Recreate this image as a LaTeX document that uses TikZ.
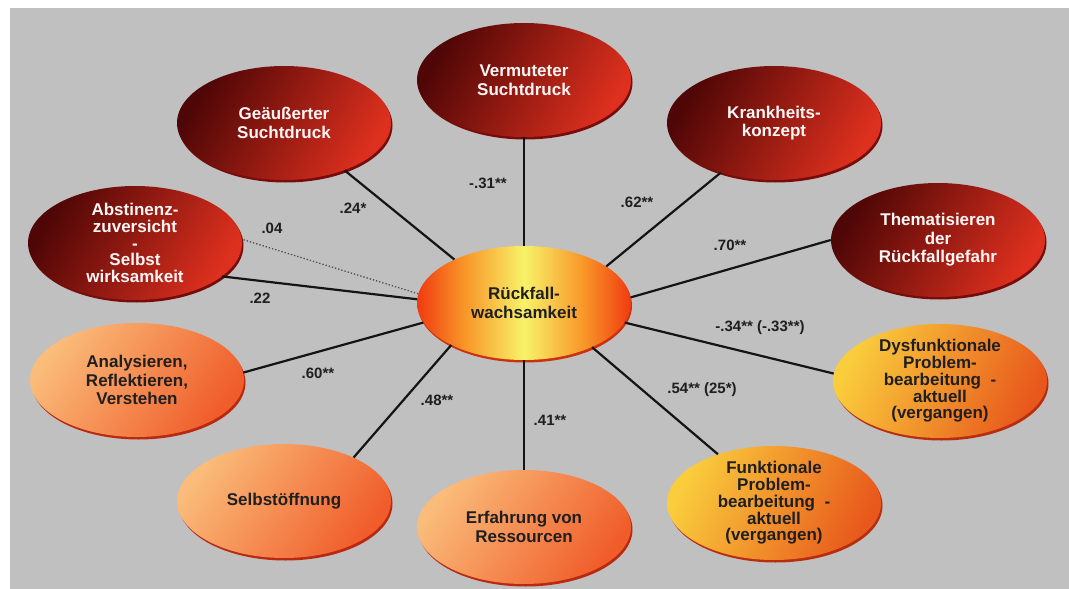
\documentclass[tikz,border=0pt]{standalone}
\usepackage{fontspec}
\setmainfont{Liberation Sans}
\usetikzlibrary{shapes.geometric,shadows}
\definecolor{bg}{RGB}{192,192,192}
\definecolor{reddark}{RGB}{78,6,6}
\definecolor{redbright}{RGB}{222,48,30}
\definecolor{redrim}{RGB}{120,12,10}
\definecolor{orlight}{RGB}{250,188,122}
\definecolor{ordark}{RGB}{240,92,42}
\definecolor{orrim}{RGB}{185,40,15}
\definecolor{yelight}{RGB}{250,205,60}
\definecolor{yedark}{RGB}{232,88,28}
\definecolor{yerim}{RGB}{185,45,15}
\definecolor{cred}{RGB}{240,58,16}
\definecolor{cora}{RGB}{248,150,40}
\definecolor{cyel}{RGB}{248,242,105}
\definecolor{linec}{RGB}{20,20,20}
\pgfdeclarehorizontalshading{centershade}{100bp}{color(0bp)=(cred); color(25bp)=(cred); color(36bp)=(cora); color(50bp)=(cyel); color(64bp)=(cora); color(75bp)=(cred); color(100bp)=(cred)}
\begin{document}
\begin{tikzpicture}[x=1pt,y=-1pt,
  ell/.style={ellipse, minimum width=214pt, minimum height=114pt, inner sep=0pt},
  redell/.style={ell, top color=reddark, bottom color=redbright, shading angle=60,
    drop shadow={fill=redrim, opacity=1, shadow xshift=1.5pt, shadow yshift=-2.5pt}},
  orell/.style={ell, top color=orlight, bottom color=ordark, shading angle=55,
    drop shadow={fill=orrim, opacity=1, shadow xshift=1.5pt, shadow yshift=-2.5pt}},
  yeell/.style={ell, top color=yelight, bottom color=yedark, shading angle=65,
    drop shadow={fill=yerim, opacity=1, shadow xshift=1.5pt, shadow yshift=-2.5pt}},
  cenell/.style={ell, shading=centershade,
    drop shadow={fill=cred!85!black, opacity=1, shadow xshift=1pt, shadow yshift=-2.5pt}},
  wtext/.style={align=center, text=white!96!red, inner sep=0pt, font=\bfseries\fontsize{17}{18.5}\selectfont},
  dtext/.style={align=center, text=black!88, inner sep=0pt, font=\bfseries\fontsize{17}{18.5}\selectfont},
  tight/.style={font=\bfseries\fontsize{17}{16.8}\selectfont},
  lab/.style={text=black!88, inner sep=0pt, font=\bfseries\fontsize{15}{17}\selectfont},
  conn/.style={draw=linec, line width=2.2pt},
  dconn/.style={draw=black!70, line width=1.3pt, dotted}]
\useasboundingbox (0,0) rectangle (1069,589);
\fill[bg] (10,8) rectangle (1069,589);

% outer ellipses
\node[redell] (ge) at (284,123) {};
\node[redell] (ve) at (524,80) {};
\node[redell] (kr) at (774,123) {};
\node[redell] (th) at (938,240) {};
\node[redell] (ab) at (135,243) {};
\node[orell] (an) at (137,380) {};
\node[orell] (se) at (284,501) {};
\node[orell] (er) at (524,527) {};
\node[yeell] (fu) at (774,503) {};
\node[yeell] (dy) at (940,381) {};
\node[cenell] (c) at (524,303) {};

% texts
\node[wtext] (ge-t) at (ge) {Geäußerter\\Suchtdruck};
\node[wtext] (ve-t) at (ve) {Vermuteter\\Suchtdruck};
\node[wtext] (kr-t) at (kr) {Krankheits-\\konzept};
\node[wtext] (th-t) at (th) {Thematisieren\\der\\Rückfallgefahr};
\node[wtext,tight] (ab-t) at (ab) {Abstinenz-\\zuversicht\\-\\Selbst\\wirksamkeit};
\node[dtext] (an-t) at (an) {Analysieren,\\Reflektieren,\\Verstehen};
\node[dtext] (se-t) at (se) {Selbstöffnung};
\node[dtext] (er-t) at (er) {Erfahrung von\\Ressourcen};
\node[dtext,tight] (fu-t) at (fu) {Funktionale\\Problem-\\bearbeitung~~-\\aktuell\\(vergangen)};
\node[dtext,tight] (dy-t) at (dy) {Dysfunktionale\\Problem-\\bearbeitung~~-\\aktuell\\(vergangen)};
\node[dtext] (c-t) at (c) {Rückfall-\\wachsamkeit};

% connectors
\draw[conn] (c.148) -- (ge.-38);
\draw[conn] (c.90) -- (ve.270);
\draw[conn] (c.24.5) -- (kr.223);
\draw[conn] (c.3) -- (th.180);
\draw[conn] (c.-11) -- (dy.176);
\draw[conn] (c.-33) -- (fu.139);
\draw[conn] (c.270) -- (er.90);
\draw[conn] (c.210) -- (se.32);
\draw[conn] (c.191) -- (an.4);
\draw[conn] (c.178) -- (ab.-21);
\draw[dconn] (c.175) -- (ab.2);

% labels
\node[lab] (l-ge) at (353,208) {.24*};
\node[lab] (l-ve) at (488,183) {-.31**};
\node[lab] (l-kr) at (637,202) {.62**};
\node[lab] (l-th) at (730,245) {.70**};
\node[lab] (l-ab1) at (272,228) {.04};
\node[lab] (l-ab2) at (260,298) {.22};
\node[lab] (l-dy) at (760,328) {-.34** (-.33**)};
\node[lab] (l-an) at (318,373) {.60**};
\node[lab] (l-se) at (437,400) {.48**};
\node[lab] (l-er) at (550,420) {.41**};
\node[lab] (l-fu) at (702,390) {.54** (25*)};
\end{tikzpicture}
\end{document}
